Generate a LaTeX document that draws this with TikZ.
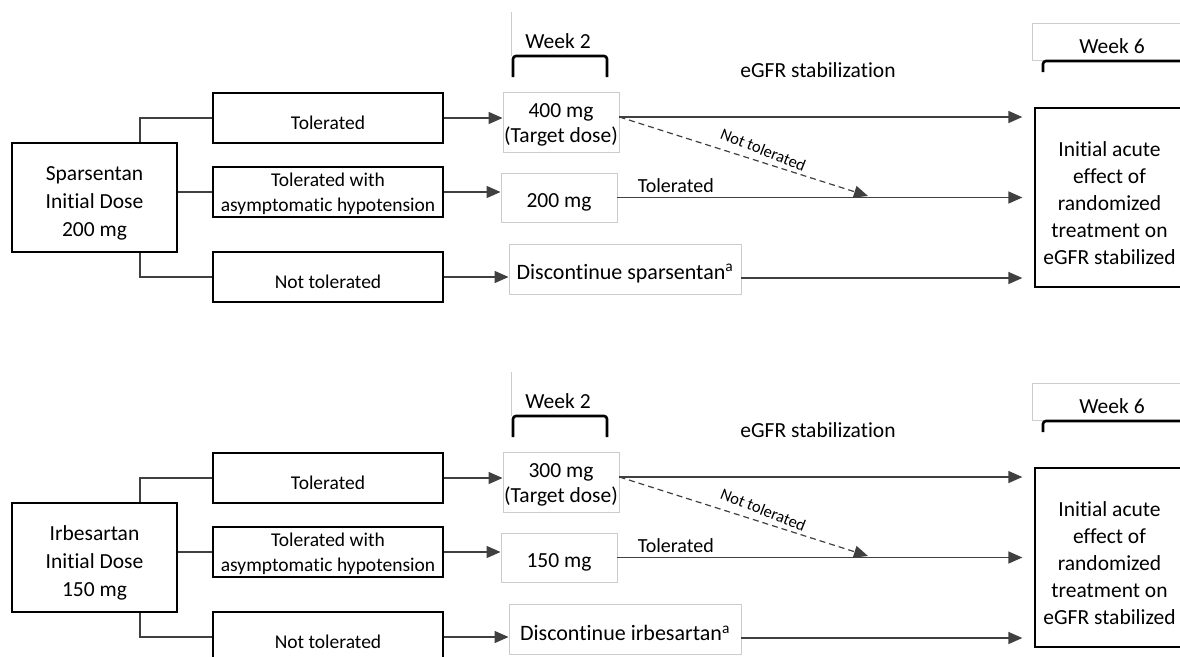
\documentclass[tikz,border=0pt]{standalone}
\usepackage{fontspec}
\setmainfont{Carlito}[Ligatures={NoCommon}]
\usetikzlibrary{arrows.meta}
% extra room above the first line of a box
\newcommand\lift[1]{\rule{0pt}{#1}}
\begin{document}
\begin{tikzpicture}[x=1pt,y=-1pt,line width=1.3pt,
    font=\fontsize{21.5}{25}\selectfont,inner sep=0pt,
    box/.style={draw,minimum width=230,minimum height=50,align=center},
    outcome/.style={box,font=\fontsize{19.5}{25}\selectfont},
    dosebox/.style={draw=black!20,line width=0.9pt,align=center},
    link/.style={draw=black!75,line width=1.5pt},
    tip/.style={-{Triangle[length=14pt,width=12pt]}},
    bracket/.style={line width=2.6pt,rounded corners=3pt}]
    \path[use as bounding box] (0,0) rectangle (1180,656);
    \foreach \p/\oy/\drug/\init/\full/\half/\stop in
      {s/0/Sparsentan/200/400/200/sparsentan,
       i/360/Irbesartan/150/300/150/irbesartan} {
      % starting dose and the three outcomes
      \node[box,minimum width=165,minimum height=109,
        font=\fontsize{21.5}{28}\selectfont] (drug\p) at (94.5,197.5+\oy)
        {\lift{26pt}\drug\\Initial Dose\\\init\ mg};
      \node[outcome] (ok\p) at (328,118+\oy) {\lift{24pt}Tolerated};
      \node[outcome] (hypo\p) at (328,192+\oy)
        {\lift{17pt}Tolerated with\\asymptomatic hypotension};
      \node[outcome] (no\p) at (328,277+\oy) {\lift{24pt}Not tolerated};
      \draw[link] ([xshift=45.5]drug\p.north) |- (ok\p.west);
      \draw[link] (drug\p.east |- hypo\p.west) -- (hypo\p.west);
      \draw[link] ([xshift=45.5]drug\p.south) |- (no\p.west);
      % week 2
      \node[minimum width=92,minimum height=42,text height=29,text depth=0]
        (wktwo\p) at (558,34+\oy) {Week 2};
      \draw[black!20,line width=0.9pt] (wktwo\p.north west) -- (wktwo\p.south west);
      \draw[bracket] (513,77+\oy) -- (513,56+\oy) -- (607,56+\oy) -- (607,77+\oy);
      \node[dosebox,minimum width=116,minimum height=60] (full\p)
        at (561,122+\oy) {\lift{20pt}\full\ mg\\(Target dose)};
      \node[dosebox,minimum width=116,minimum height=49] (half\p)
        at (559,197.5+\oy) {\lift{24pt}\half\ mg};
      \node[dosebox,minimum width=232,minimum height=50,
        font=\fontsize{22}{25}\selectfont] (stop\p)
        at (625,269+\oy) {\lift{24pt}Discontinue \stop\textsuperscript{a}};
      \draw[link,tip] (ok\p) -- (ok\p -| full\p.west);
      \draw[link,tip] (hypo\p) -- (hypo\p -| half\p.west);
      \draw[link,tip] (no\p) -- (no\p -| stop\p.west);
      % week 6
      \node (egfr\p) at (818,70+\oy) {eGFR stabilization};
      \node[dosebox,minimum width=160,minimum height=37,text height=24,
        text depth=0] (wksix\p) at (1112,41.5+\oy) {Week 6};
      \draw[bracket] (1043,72+\oy) -- (1043,61+\oy) -- (1192,61+\oy);
      \node[box,minimum width=149,minimum height=179,
        font=\fontsize{21.5}{27}\selectfont] (result\p) at (1109.5,197.5+\oy)
        {\lift{27pt}Initial acute\\effect of\\randomized\\treatment on\\eGFR stabilized};
      \coordinate (fullout\p) at ([yshift=5]full\p.east);
      \coordinate (stopout\p) at ([yshift=-9]stop\p.east);
      \coordinate (meet\p) at (868,196+\oy);
      \draw[link,tip,shorten >=12pt] (fullout\p) -- (fullout\p -| result\p.west);
      \draw[link,tip,shorten >=12pt] (half\p.east) -- (half\p.east -| result\p.west)
        node[pos=0.14,above=4pt,font=\fontsize{20}{20}\selectfont] {Tolerated};
      \draw[link,tip,shorten >=12pt] (stopout\p) -- (stopout\p -| result\p.west);
      \draw[link,line width=1.2pt,dash pattern=on 6pt off 4pt,tip]
        (fullout\p) -- (meet\p)
        node[pos=0.56,sloped,rotate=-4,above=6pt,font=\fontsize{16.5}{16.5}\selectfont]
        {Not tolerated};
    }
  \end{tikzpicture}
\end{document}
